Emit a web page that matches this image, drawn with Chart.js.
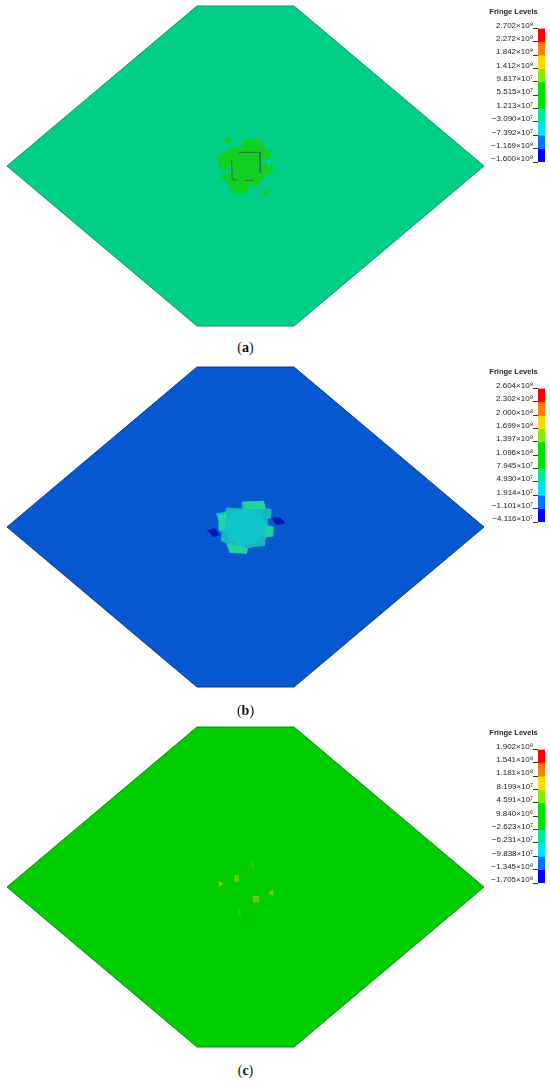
<!DOCTYPE html>
<html>
<head>
<meta charset="utf-8">
<title>Fringe levels</title>
<script src="https://cdn.jsdelivr.net/npm/chart.js@4"></script>
<style>
  body { margin: 0; background: #fff; width: 550px; height: 1084px; position: relative; overflow: hidden; }
  .plate { position: absolute; left: 0; width: 491px; height: 332px; filter: blur(0.7px); }
  .bar { position: absolute; left: 482px; width: 68px; height: 170px; filter: blur(0.25px); }
  .cap { position: absolute; left: 0; width: 491px; text-align: center; font: 14px "Liberation Serif", serif; color: #111; }
</style>
</head>
<body>
<div class="plate" style="top:0"><canvas id="plateA"></canvas></div>
<div class="plate" style="top:361px"><canvas id="plateB"></canvas></div>
<div class="plate" style="top:721px"><canvas id="plateC"></canvas></div>
<div class="bar" style="top:0"><canvas id="barA"></canvas></div>
<div class="bar" style="top:360px"><canvas id="barB"></canvas></div>
<div class="bar" style="top:721px"><canvas id="barC"></canvas></div>
<div class="cap" style="top:340px">(<b>a</b>)</div>
<div class="cap" style="top:703px">(<b>b</b>)</div>
<div class="cap" style="top:1063px">(<b>c</b>)</div>
<script>
// outline of the plate, model units
const plate = [[-238.5,0],[-48.5,160],[48.5,160],[238.5,0],[48.5,-160],[-48.5,-160],[-238.5,0]];

// (a) damage zone
const blobA = [[-2.2,26],[16.2,26],[18.5,17.7],[26.2,13.7],[23.8,6.7],[16.2,5.3],[16.2,1],[27.2,1],[27.2,-7.3],[21.2,-9],[15.2,-14.7],[12.8,-19],[2.8,-19],[1.8,-26.7],[-12.2,-27.3],[-15.5,-19],[-24.8,-11.3],[-17.2,-7.3],[-17.2,-4],[-26.2,-2.3],[-27.2,9.3],[-22.2,12.7],[-13.8,19.3],[-3.8,17.7],[-2.2,26]];
const satA1 = [[-22.2,26],[-15.5,29.3],[-13.8,25.3],[-18.8,22],[-22.2,26]];
const satA2 = [[16.2,-27.3],[21.8,-22.3],[24.5,-24.7],[19.5,-30.7],[16.2,-27.3]];
const cyanA1 = [[-16,0],[-14,0],[-14,-7],[-16,-7],[-16,0]];
const cyanA2 = [[15,10],[17,10],[17,5],[15,5],[15,10]];
const holeA = [[-7,13.7],[14.5,13.7],[14.9,-7],null,[8,-14.3],[-0.5,-14.6],null,[-9,-14],[-13.3,-13.6],[-13.8,6]];

// (b) damage zone
const blobB = [[-3.8,25.3],[18.5,26.3],[20.5,18.7],[26.2,17.7],[25.5,8.7],[21.8,7.7],[22.8,2],[28.5,0.3],[27.8,-9.7],[20.5,-10.3],[19.5,-19],[10.5,-19.7],[2.8,-21.3],[1.2,-27],[-16.2,-25.7],[-19.5,-16.3],[-24.8,-13.7],[-23.8,-6.3],[-27.2,-3],[-27.2,7],[-29.5,13.7],[-20.5,15.3],[-18.8,19.7],[-10.5,18.7],[-3.8,18.7],[-3.8,25.3]];
const coreB = [[-12.2,15.3],[-5.5,17],[12.8,17],[19.5,5.3],[18.5,-6.3],[9.5,-16.3],[-5.5,-18],[-15.5,-13],[-20.5,-3],[-18.8,7],[-12.2,15.3]];
const patchB1 = [[-2.2,25.3],[18.5,26.3],[19.5,17.7],[-0.5,17.7],[-2.2,25.3]];
const patchB2 = [[-27.2,12],[-18.2,13.7],[-20.5,-3],[-26.2,-3],[-27.2,12]];
const patchB3 = [[-18.2,-17],[-5.5,-18.7],[1.8,-21.3],[1.2,-26.3],[-15.5,-25.7],[-18.2,-17]];
const patchB4 = [[19.5,0.3],[27.8,-0.3],[27.2,-9],[19.5,-9.7],[18.5,-6.3],[19.5,0.3]];
const darkB1 = [[-38.8,-3],[-30.5,-1.3],[-26.2,-8],[-32.2,-10.3],[-38.8,-3]];
const darkB2 = [[27.2,9.7],[34.5,9.7],[40.2,3.7],[31.8,2],[27.8,5.3],[27.2,9.7]];

// (c) small hot spots
const spotC1 = [[-11.2,12],[-6.5,12],[-6.5,5.3],[-11.2,5.3],[-11.2,12]];
const spotC2 = [[7.2,-9],[13.5,-9],[13.5,-15.3],[7.2,-15.3],[7.2,-9]];
const spotC3 = [[-27.2,6.3],[-21.5,3.7],[-26.5,-0.7],[-27.2,6.3]];
const spotC4 = [[27.8,-2.3],[22.2,-6.3],[27.8,-9],[27.8,-2.3]];
const faintC1 = [[6.2,25.3],[8.5,25.3],[7.8,18.7],[6.2,18.7],[6.2,25.3]];
const faintC2 = [[-7.2,-22],[-4.8,-22],[-4.8,-29],[-6.5,-29],[-7.2,-22]];

// fringe levels, top to bottom
const levelsA = [2.702e8,2.272e8,1.842e8,1.412e8,9.817e7,5.515e7,1.213e7,-3.090e7,-7.392e7,-1.169e8,-1.600e8];
const labelsA = ['2.702×10⁸','2.272×10⁸','1.842×10⁸','1.412×10⁸','9.817×10⁷','5.515×10⁷','1.213×10⁷','−3.090×10⁷','−7.392×10⁷','−1.169×10⁸','−1.600×10⁸'];
const levelsB = [2.604e8,2.302e8,2.000e8,1.699e8,1.397e8,1.096e8,7.945e7,4.930e7,1.914e7,-1.101e7,-4.116e7];
const labelsB = ['2.604×10⁸','2.302×10⁸','2.000×10⁸','1.699×10⁸','1.397×10⁸','1.096×10⁸','7.945×10⁷','4.930×10⁷','1.914×10⁷','−1.101×10⁷','−4.116×10⁷'];
const levelsC = [1.902e8,1.541e8,1.181e8,8.199e7,4.591e7,9.840e6,-2.623e7,-6.231e7,-9.838e7,-1.345e8,-1.705e8];
const labelsC = ['1.902×10⁸','1.541×10⁸','1.181×10⁸','8.199×10⁷','4.591×10⁷','9.840×10⁶','−2.623×10⁷','−6.231×10⁷','−9.838×10⁷','−1.345×10⁸','−1.705×10⁸'];
const bandColors = ['#ff0000','#ff7f00','#ffd800','#80f000','#00e000','#00e000','#00e8a0','#00e0ff','#0070ff','#0000ff'];

const pts = a => a.map(p => p ? { x: p[0], y: p[1] } : { x: null, y: null });

function poly(points, color, edge) {
  return {
    data: pts(points),
    showLine: true,
    fill: 'shape',
    backgroundColor: color,
    borderColor: edge || color,
    borderWidth: edge ? 1 : 0,
    pointRadius: 0,
    tension: 0,
    clip: false
  };
}

function drawPlate(id, layers) {
  // first layer is the lowest one
  layers.forEach((d, i) => { d.order = layers.length - i; });
  new Chart(document.getElementById(id), {
    type: 'scatter',
    data: { datasets: layers },
    options: {
      responsive: true,
      maintainAspectRatio: false,
      animation: false,
      plugins: { legend: { display: false }, tooltip: { enabled: false } },
      scales: {
        x: { display: false, min: -245.5, max: 245.5 },
        y: { display: false, min: -166, max: 166 }
      }
    }
  });
}

function drawBar(id, levels, labels) {
  new Chart(document.getElementById(id), {
    type: 'bar',
    data: {
      labels: [''],
      datasets: bandColors.map((c, i) => ({
        data: [[levels[i + 1], levels[i]]],
        backgroundColor: c,
        barPercentage: 1,
        categoryPercentage: 1,
        grouped: false
      }))
    },
    options: {
      responsive: true,
      maintainAspectRatio: false,
      animation: false,
      layout: { padding: { top: 7, right: 5, bottom: 8 } },
      plugins: {
        legend: { display: false },
        tooltip: { enabled: false },
        title: {
          display: true,
          text: 'Fringe Levels',
          color: '#222',
          font: { family: 'Liberation Sans', size: 7.5, weight: 'bold' },
          padding: { top: 0, bottom: 12.6 }
        }
      },
      scales: {
        x: { display: false },
        y: {
          min: levels[levels.length - 1],
          max: levels[0],
          afterBuildTicks: s => { s.ticks = levels.map(v => ({ value: v })); },
          afterFit: s => { s.width = 56; },
          border: { display: false },
          grid: { drawOnChartArea: false, tickLength: 5, tickColor: '#333', tickWidth: 1 },
          ticks: {
            autoSkip: false,
            padding: 0,
            labelOffset: -3,
            color: '#222',
            font: { family: 'Liberation Sans', size: 8 },
            callback: (v, i) => labels[i]
          }
        }
      }
    }
  });
}

drawPlate('plateA', [
  poly(plate, '#00cf85', '#12936a'),
  poly(blobA, '#10d020'),
  poly(satA1, '#10d020'),
  poly(satA2, '#10d020'),
  poly(cyanA1, '#10c8b0'),
  poly(cyanA2, '#10c8b0'),
  { data: pts(holeA), showLine: true, borderColor: '#2f6f45', borderWidth: 1, pointRadius: 0, spanGaps: false }
]);
drawPlate('plateB', [
  poly(plate, '#0558cf', '#0a3f90'),
  poly(darkB1, '#0318b0'),
  poly(darkB2, '#0318b0'),
  poly(blobB, '#14b8c0'),
  poly(coreB, '#10c4cc'),
  poly(patchB1, '#20d4a0'),
  poly(patchB2, '#20d4a0'),
  poly(patchB3, '#20d4a0'),
  poly(patchB4, '#20d4a0')
]);
drawPlate('plateC', [
  poly(plate, '#00cd00', '#118a11'),
  poly(faintC1, '#40c800'),
  poly(faintC2, '#40c800'),
  poly(spotC1, '#70c800'),
  poly(spotC2, '#70c800'),
  poly(spotC3, '#80c800'),
  poly(spotC4, '#80c800')
]);

drawBar('barA', levelsA, labelsA);
drawBar('barB', levelsB, labelsB);
drawBar('barC', levelsC, labelsC);
</script>
</body>
</html>
